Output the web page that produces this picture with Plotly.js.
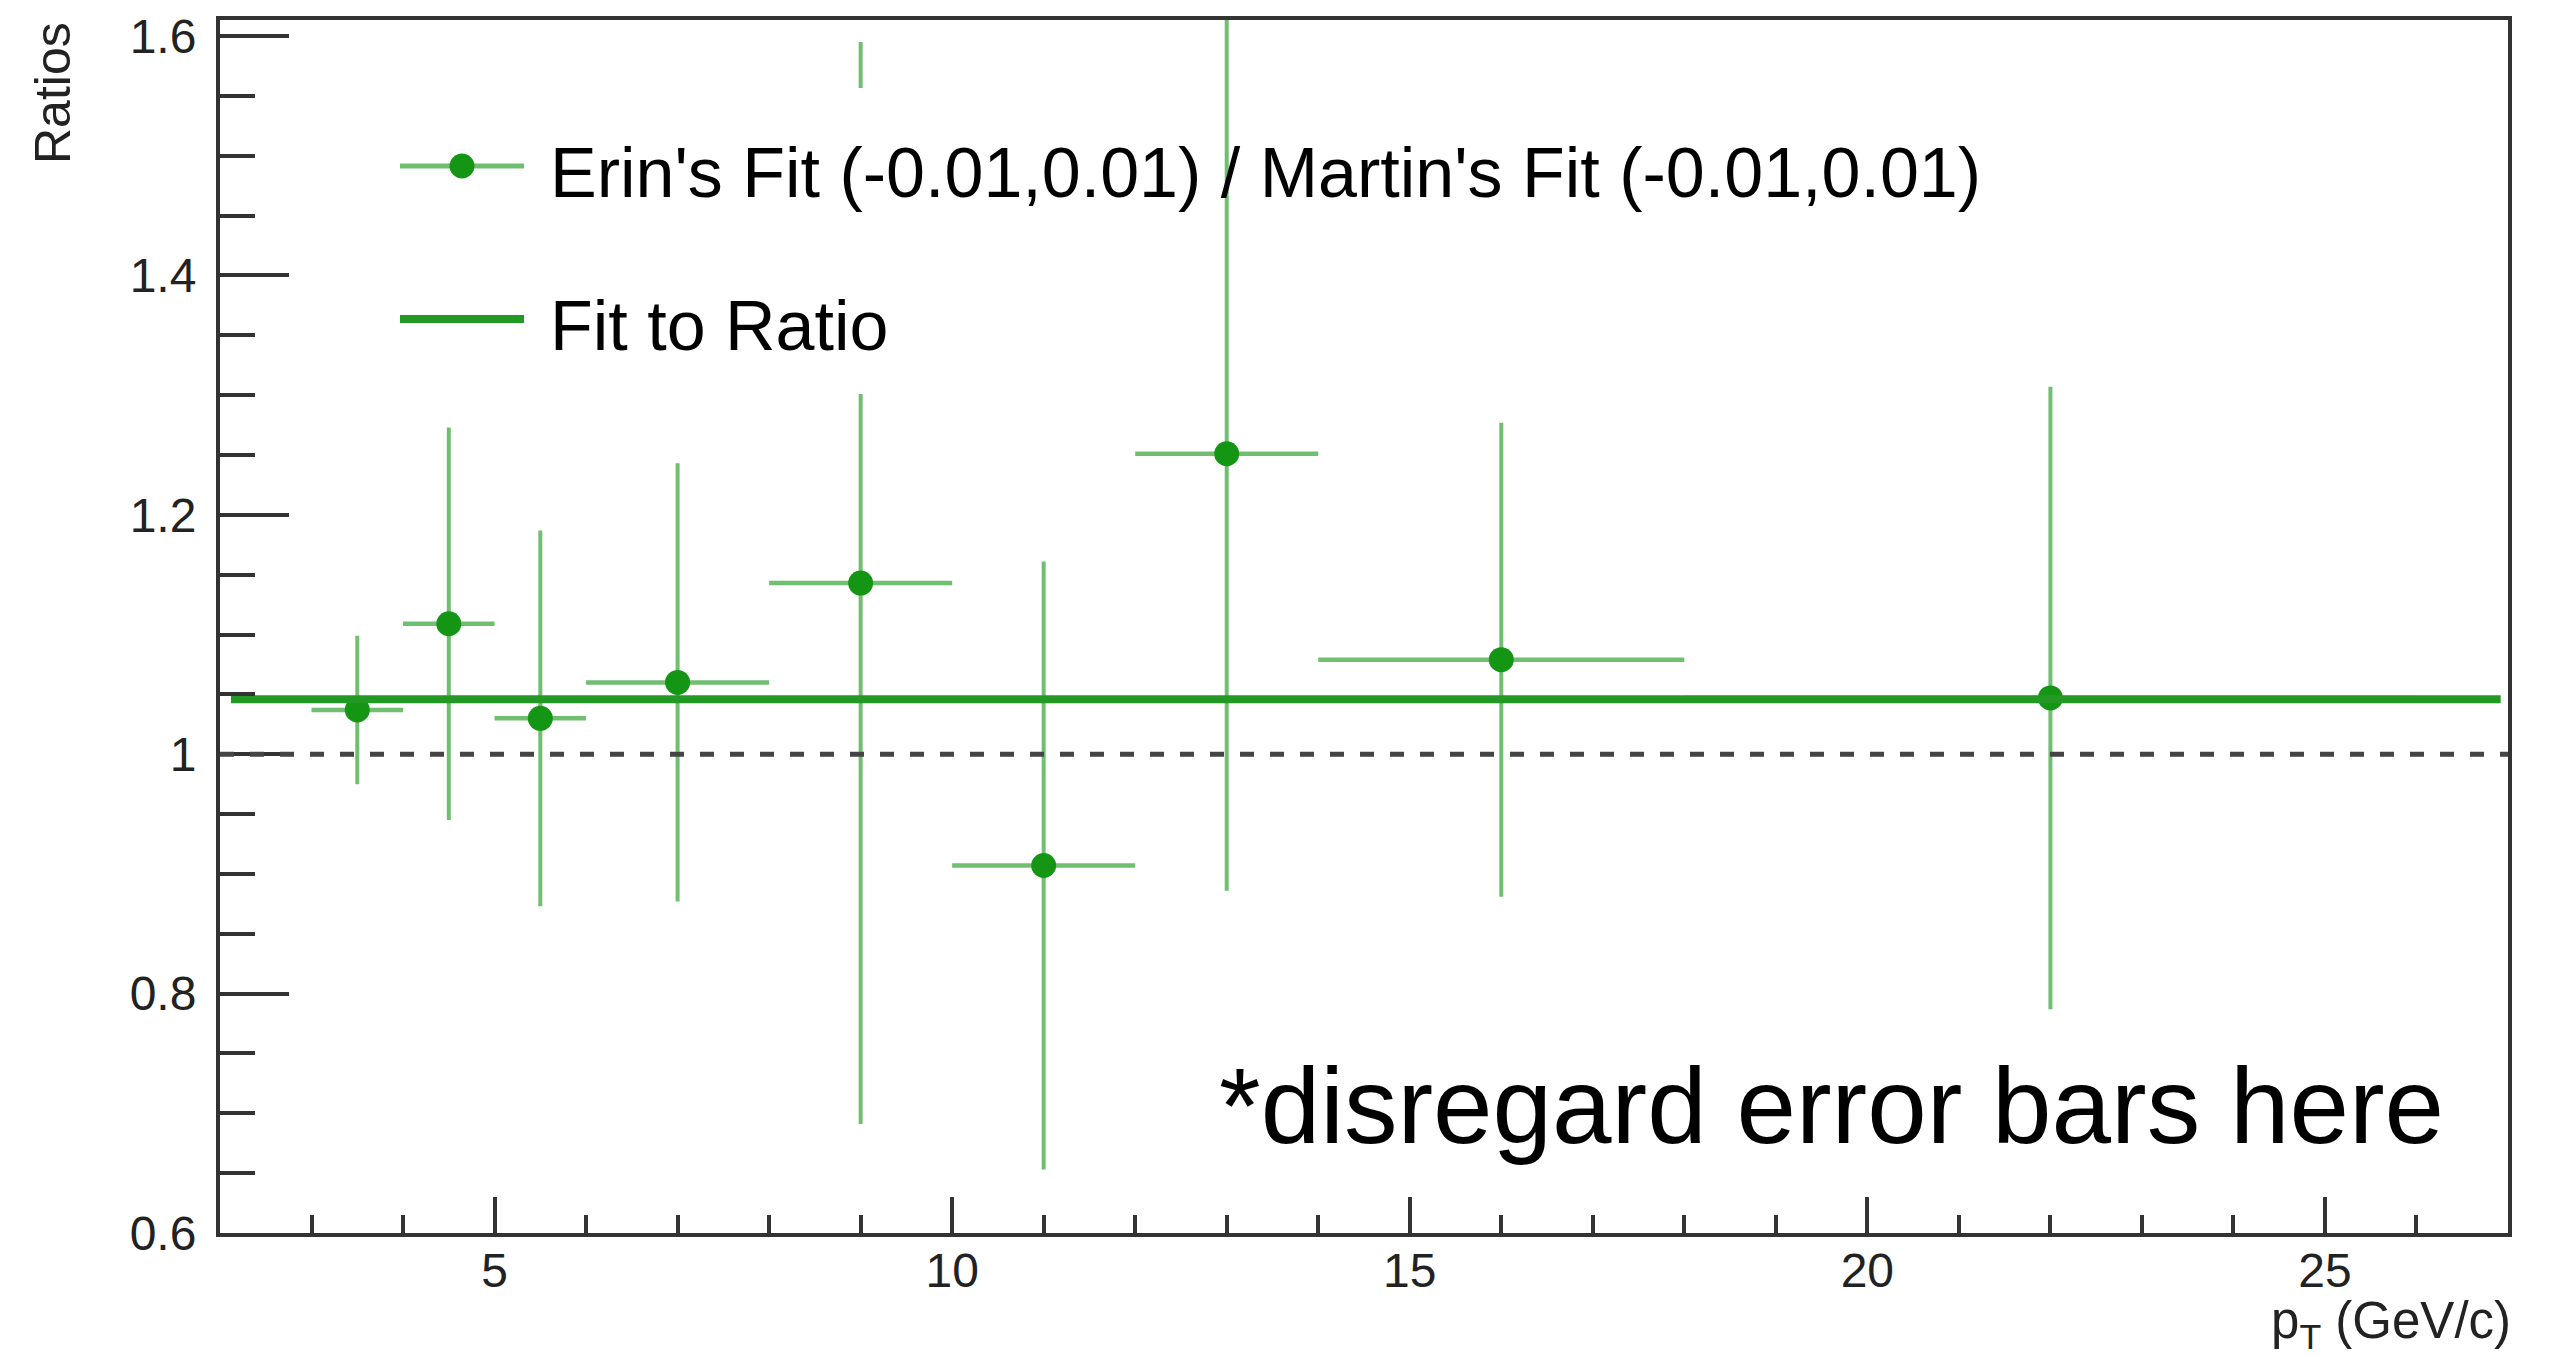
<!DOCTYPE html>
<html>
<head>
<meta charset="utf-8">
<script src="https://cdn.plot.ly/plotly-3.0.1.min.js"></script>
<style>
  html, body { margin: 0; padding: 0; background: #ffffff; }
  #chart { width: 2555px; height: 1356px; }
</style>
</head>
<body>
<div id="chart"></div>
<script>
// pT bin centres and half-widths (GeV/c)
const ptCenters    = [3.5, 4.5, 5.5, 7, 9, 11, 13, 16, 22];
const ptHalfWidths = [0.5, 0.5, 0.5, 1, 1, 1, 1, 2, 4];

// Erin's fit / Martin's fit ratio in each bin and its uncertainty
const ratioValues = [1.037, 1.109, 1.030, 1.060, 1.143, 0.907, 1.251, 1.079, 1.047];
const ratioErrors = [0.062, 0.164, 0.157, 0.183, 0.452, 0.254, 0.365, 0.198, 0.260];

// constant fitted to the ratio, and the pT range it is drawn over
const fitValue = 1.046;
const fitRange = [2.12, 26.92];

// unity reference level
const referenceLevel = 1;

// axis ranges and ticks
const xRange = [2, 27];
const yRange = [0.6, 1.6134];
const xTickVals = [5, 10, 15, 20, 25];
const xTickText = ['5', '10', '15', '20', '25'];
const yTickVals = [0.6, 0.8, 1, 1.2, 1.4, 1.6];
const yTickText = ['0.6', '0.8', '1', '1.2', '1.4', '1.6'];

// texts
const legendLabels = ["Erin's Fit (-0.01,0.01) / Martin's Fit (-0.01,0.01)", 'Fit to Ratio'];
const xTitle = 'p<sub>T</sub> (GeV/c)';
const yTitle = 'Ratios';
const noteText = '*disregard error bars here';

// ---------------------------------------------------------------------------
const W = 2555, H = 1356;
const frame = { left: 220, right: 2508, top: 20, bottom: 1233 };
const px2paperX = x => (x - frame.left) / (frame.right - frame.left);
const px2paperY = y => (frame.bottom - y) / (frame.bottom - frame.top);

const FONT = '"Liberation Sans", Arial, Helvetica, sans-serif';
const AXIS_COLOR = '#333333';
const MARKER_GREEN = 'rgb(20,150,20)';
const FIT_GREEN = 'rgb(36,152,36)';
const ERR_GREEN = 'rgba(24,150,24,0.62)';

const ratioTrace = {
  type: 'scatter',
  mode: 'markers',
  x: ptCenters,
  y: ratioValues,
  marker: { color: MARKER_GREEN, size: 25, line: { width: 0 } },
  error_x: { type: 'data', array: ptHalfWidths, symmetric: true, color: ERR_GREEN, thickness: 4.5, width: 0 },
  error_y: { type: 'data', array: ratioErrors, symmetric: true, color: ERR_GREEN, thickness: 4, width: 0 },
  showlegend: false,
  hoverinfo: 'x+y'
};

const fitTrace = {
  type: 'scatter',
  mode: 'lines',
  x: fitRange,
  y: [fitValue, fitValue],
  line: { color: FIT_GREEN, width: 8 },
  showlegend: false,
  hoverinfo: 'y'
};

// legend drawn by hand: ROOT-style entries with no frame
const legendBox = { x0: 380, x1: 1200, y0: 88, y1: 394 };
const legendSample = { x0: 400, x1: 524 };
const legendRows = [166, 319];
const legendTextX = 548;
const legendTextY = [173, 326];

const shapes = [
  // unity reference line
  {
    type: 'line', xref: 'paper', yref: 'y', x0: 0, x1: 1, y0: referenceLevel, y1: referenceLevel,
    line: { color: '#444444', width: 5, dash: '14px,16px' }, layer: 'above'
  },
  // legend background
  {
    type: 'rect', xref: 'paper', yref: 'paper',
    x0: px2paperX(legendBox.x0), x1: px2paperX(legendBox.x1),
    y0: px2paperY(legendBox.y1), y1: px2paperY(legendBox.y0),
    fillcolor: '#ffffff', line: { width: 0 }, layer: 'above'
  },
  // legend entry 1: error-bar line with marker
  {
    type: 'line', xref: 'paper', yref: 'paper',
    x0: px2paperX(legendSample.x0), x1: px2paperX(legendSample.x1),
    y0: px2paperY(legendRows[0]), y1: px2paperY(legendRows[0]),
    line: { color: ERR_GREEN, width: 5 }, layer: 'above'
  },
  {
    type: 'circle', xref: 'paper', yref: 'paper', xsizemode: 'pixel', ysizemode: 'pixel',
    xanchor: px2paperX((legendSample.x0 + legendSample.x1) / 2), yanchor: px2paperY(legendRows[0]),
    x0: -12.5, x1: 12.5, y0: -12.5, y1: 12.5,
    fillcolor: MARKER_GREEN, line: { width: 0 }, layer: 'above'
  },
  // legend entry 2: fit line
  {
    type: 'line', xref: 'paper', yref: 'paper',
    x0: px2paperX(legendSample.x0), x1: px2paperX(legendSample.x1),
    y0: px2paperY(legendRows[1]), y1: px2paperY(legendRows[1]),
    line: { color: FIT_GREEN, width: 8 }, layer: 'above'
  }
];

const annotations = [
  {
    text: legendLabels[0], xref: 'paper', yref: 'paper',
    x: px2paperX(legendTextX), y: px2paperY(legendTextY[0]), xanchor: 'left', yanchor: 'middle',
    showarrow: false, font: { family: FONT, size: 70, color: '#000000' }
  },
  {
    text: legendLabels[1], xref: 'paper', yref: 'paper',
    x: px2paperX(legendTextX), y: px2paperY(legendTextY[1]), xanchor: 'left', yanchor: 'middle',
    showarrow: false, font: { family: FONT, size: 70, color: '#000000' }
  },
  {
    text: noteText, xref: 'paper', yref: 'paper',
    x: px2paperX(2446), y: px2paperY(1106), xanchor: 'right', yanchor: 'middle',
    showarrow: false, font: { family: FONT, size: 107, color: '#000000' }
  },
  {
    text: xTitle, xref: 'paper', yref: 'paper',
    x: 1, xshift: 5, y: px2paperY(1290), xanchor: 'right', yanchor: 'top',
    showarrow: false, font: { family: FONT, size: 51, color: '#222222' }
  },
  {
    text: yTitle, xref: 'paper', yref: 'paper', textangle: -90,
    x: px2paperX(53), y: px2paperY(20), xanchor: 'center', yanchor: 'top',
    showarrow: false, font: { family: FONT, size: 50, color: '#222222' }
  }
];

const layout = {
  width: W,
  height: H,
  paper_bgcolor: '#ffffff',
  plot_bgcolor: '#ffffff',
  margin: { l: frame.left, r: W - frame.right, t: frame.top, b: H - frame.bottom, pad: 0 },
  showlegend: false,
  font: { family: FONT, color: '#222222' },
  xaxis: {
    range: xRange,
    showgrid: false, zeroline: false,
    showline: true, mirror: true, linecolor: AXIS_COLOR, linewidth: 4,
    ticks: 'inside', ticklen: 36, tickwidth: 4, tickcolor: AXIS_COLOR,
    tickmode: 'array', tickvals: xTickVals, ticktext: xTickText,
    tickfont: { family: FONT, size: 48, color: '#222222' },
    ticklabelstandoff: -8,
    minor: { tickmode: 'linear', tick0: 0, dtick: 1, ticks: 'inside', ticklen: 18, tickwidth: 4, tickcolor: AXIS_COLOR, showgrid: false }
  },
  yaxis: {
    range: yRange,
    showgrid: false, zeroline: false,
    showline: true, mirror: true, linecolor: AXIS_COLOR, linewidth: 4,
    ticks: 'inside', ticklen: 69, tickwidth: 4, tickcolor: AXIS_COLOR,
    tickmode: 'array', tickvals: yTickVals, ticktext: yTickText,
    tickfont: { family: FONT, size: 48, color: '#222222' },
    ticklabelstandoff: 10,
    minor: { tickmode: 'linear', tick0: 0.6, dtick: 0.05, ticks: 'inside', ticklen: 35, tickwidth: 4, tickcolor: AXIS_COLOR, showgrid: false }
  },
  shapes: shapes,
  annotations: annotations
};

Plotly.newPlot('chart', [ratioTrace, fitTrace], layout, { displayModeBar: false, staticPlot: true });
</script>
</body>
</html>
